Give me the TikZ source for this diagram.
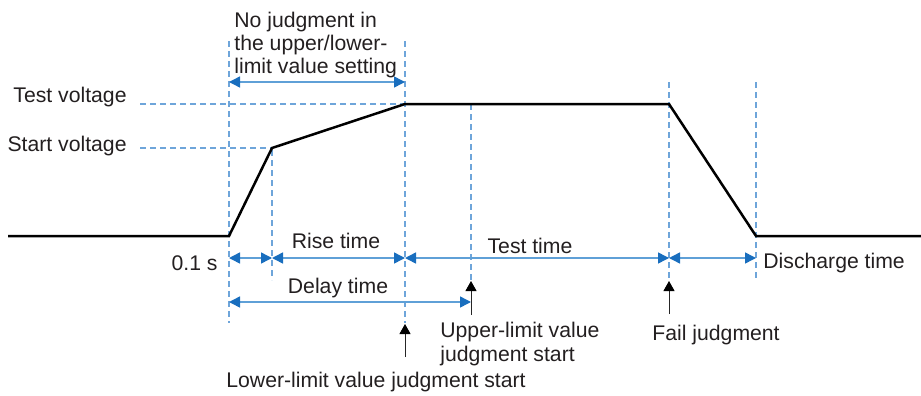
\documentclass[tikz,border=0pt]{standalone}
\usepackage{fontspec}
\setmainfont{Liberation Sans}
\usetikzlibrary{arrows.meta}
\definecolor{dashblue}{RGB}{110,165,218}
\definecolor{lineblue}{RGB}{95,160,215}
\definecolor{tipblue}{RGB}{25,110,190}
\definecolor{txt}{RGB}{35,31,32}
\tikzset{
  wave/.style={line width=1.25pt, black, line join=miter},
  guide/.style={dashblue, line width=0.65pt, dash pattern=on 3pt off 2pt},
  dimarrow/.style={lineblue, line width=0.75pt,
    {Triangle[length=5.5pt,width=5.5pt,color=tipblue]}-{Triangle[length=5.5pt,width=5.5pt,color=tipblue]}},
  markarrow/.style={black!85, line width=0.5pt, -{Triangle[length=5pt,width=5.5pt,color=black]}},
  lbl/.style={inner sep=0pt, text=txt, font=\fontsize{10.6}{11.65}\selectfont},
}
\begin{document}
\begin{tikzpicture}[x=0.5pt,y=-0.5pt]
\useasboundingbox (0,0) rectangle (921,396);
% waveform points
\coordinate (b0) at (8,236);
\coordinate (t0) at (229,236);
\coordinate (sv) at (272,148);
\coordinate (tv) at (405,104);
\coordinate (te) at (669,104);
\coordinate (d0) at (756,236);
\coordinate (b1) at (921,236);
% guide line ends
\coordinate (g1t) at (229,41);  \coordinate (g1b) at (229,323);
\coordinate (g2t) at (272,150); \coordinate (g2b) at (272,280);
\coordinate (g3t) at (405,41);  \coordinate (g3b) at (405,323);
\coordinate (g4t) at (471,104); \coordinate (g4b) at (471,280);
\coordinate (g5t) at (669,82);  \coordinate (g5b) at (669,280);
\coordinate (g6t) at (756,82);  \coordinate (g6b) at (756,280);
\coordinate (h1l) at (140,104); \coordinate (h2l) at (140,148);
% guides
\draw[guide] (h1l) -- (tv);
\draw[guide] (h2l) -- (sv);
\draw[guide] (g1t) -- (g1b);
\draw[guide] (g2t) -- (g2b);
\draw[guide] (g3t) -- (g3b);
\draw[guide] (g4t) -- (g4b);
\draw[guide] (g5t) -- (g5b);
\draw[guide] (g6t) -- (g6b);
% waveform
\draw[wave] (b0) -- (t0) -- (sv) -- (tv) -- (te) -- (d0) -- (b1);
% dimension arrows
\coordinate (a0l) at (229,82);  \coordinate (a0r) at (405,82);
\coordinate (r1) at (229,258); \coordinate (r2) at (272,258);
\coordinate (r3) at (405,258); \coordinate (r4) at (669,258);
\coordinate (r5) at (756,258);
\coordinate (q1) at (229,302); \coordinate (q2) at (471,302);
\draw[dimarrow] (a0l) -- (a0r);
\draw[dimarrow] (r1) -- (r2);
\draw[dimarrow] (r2) -- (r3);
\draw[dimarrow] (r3) -- (r4);
\draw[dimarrow] (r4) -- (r5);
\draw[dimarrow] (q1) -- (q2);
% judgment markers
\coordinate (m1b) at (405,357); \coordinate (m1t) at (405,324);
\coordinate (m2b) at (471,315); \coordinate (m2t) at (471,281);
\coordinate (m3b) at (669,314); \coordinate (m3t) at (669,281);
\draw[markarrow] (m1b) -- (m1t);
\draw[markarrow] (m2b) -- (m2t);
\draw[markarrow] (m3b) -- (m3t);
% labels
\node[lbl, anchor=north west, align=left] (nj) at (234,11.5)
  {No judgment in\\the upper/lower-\\limit value setting};
\node[lbl, anchor=base east] (ltv) at (127,102) {Test voltage};
\node[lbl, anchor=base east] (lsv) at (127,151) {Start voltage};
\node[lbl, anchor=base east] (l01) at (218,270) {0.1 s};
\node[lbl, anchor=base] (lrt) at (336,248) {Rise time};
\node[lbl, anchor=base] (ltt) at (530,253) {Test time};
\node[lbl, anchor=base] (ldt) at (338,293) {Delay time};
\node[lbl, anchor=base west] (ldc) at (763,268) {Discharge time};
\node[lbl, anchor=north west, align=left] (lup) at (440,322)
  {Upper-limit value\\judgment start};
\node[lbl, anchor=base west] (lfj) at (652,340) {Fail judgment};
\node[lbl, anchor=base west] (llo) at (226,387) {Lower-limit value judgment start};
\end{tikzpicture}
\end{document}
